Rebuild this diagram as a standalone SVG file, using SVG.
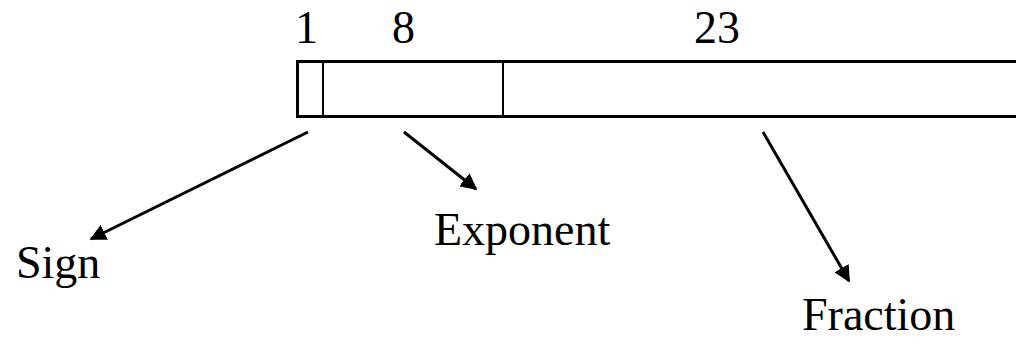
<svg xmlns="http://www.w3.org/2000/svg" width="1016" height="345" viewBox="0 0 1016 345">
<style>
text{font-family:"Liberation Serif","Times New Roman",serif;font-size:46px;fill:#000}
.box{fill:#fff;stroke:#000;stroke-width:3}
.div{stroke:#000;stroke-width:2}
.conn{stroke:#000;stroke-width:3;fill:none}
</style>
<defs>
<marker id="ah" viewBox="0 0 10 10" refX="9" refY="5" markerWidth="5.5" markerHeight="5.5" orient="auto" markerUnits="strokeWidth">
<path d="M0,0 L10,5 L0,10 z" fill="#000"/>
</marker>
</defs>
<rect width="1016" height="345" fill="#fff"/>
<g id="register">
<rect class="box" x="297.5" y="61.5" width="730" height="55"/>
<line class="div" x1="323" y1="61" x2="323" y2="117"/>
<line class="div" x1="503" y1="61" x2="503" y2="117"/>
</g>
<g id="bits">
<text x="295" y="43">1</text>
<text x="392" y="43">8</text>
<text x="694" y="43">23</text>
</g>
<g id="sign"><text x="16" y="278">Sign</text></g>
<g id="exponent"><text x="434" y="245">Exponent</text></g>
<g id="fraction"><text x="802" y="330">Fraction</text></g>
<g id="connectors">
<line class="conn" x1="308" y1="132" x2="91" y2="239" marker-end="url(#ah)"/>
<line class="conn" x1="404" y1="132" x2="476" y2="189" marker-end="url(#ah)"/>
<line class="conn" x1="763" y1="132" x2="849" y2="281" marker-end="url(#ah)"/>
</g>
</svg>
